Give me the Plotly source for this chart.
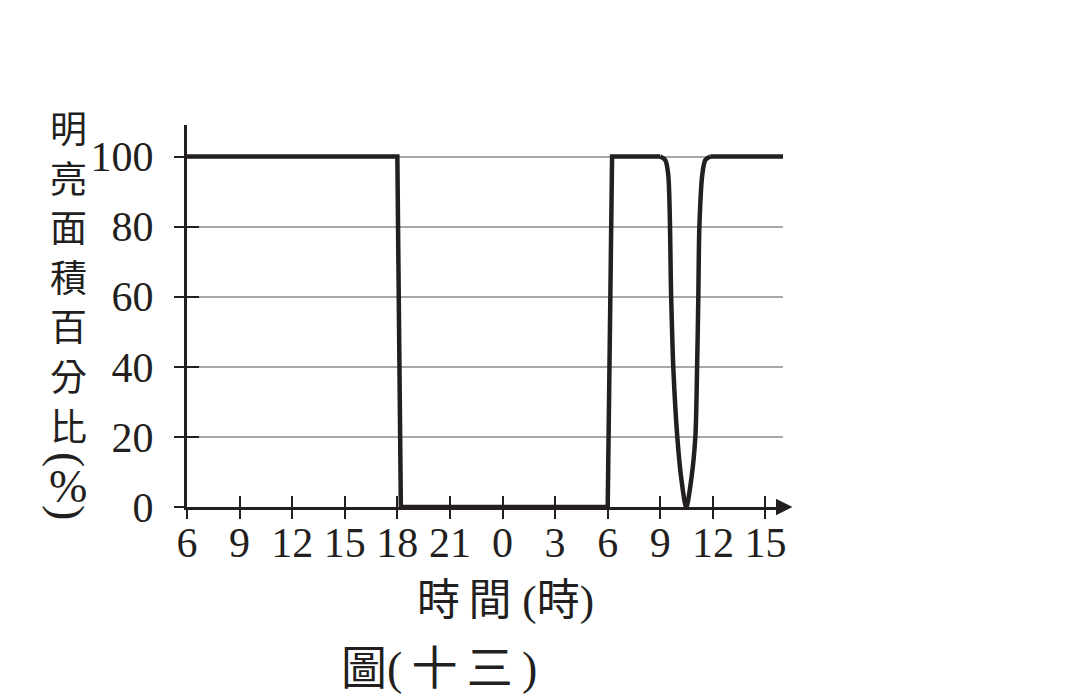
import plotly.graph_objects as go

# ---- data (hours counted continuously from 6 h of day 1; 30 = 6 h next day) ----
hours = [6, 18.0, 18.2, 30.0, 30.25, 33.0, 33.28, 33.45, 33.62, 33.74, 33.97, 34.2, 34.48,
         34.77, 35.0, 35.1, 35.17, 35.23, 35.4, 35.57, 35.85, 40.0]
bright_pct = [100, 100, 0, 0, 100, 100, 99, 95, 60, 40, 20, 8, 0,
              8, 20, 40, 60, 80, 95, 99, 100, 100]
dip_start, dip_end = 5, 20   # indices of the smooth mid-morning dip

x_tickvals = [6, 9, 12, 15, 18, 21, 24, 27, 30, 33, 36, 39]
x_ticktext = ["6", "9", "12", "15", "18", "21", "0", "3", "6", "9", "12", "15"]
y_tickvals = [0, 20, 40, 60, 80, 100]

y_title_chars = ["明", "亮", "面", "積", "百", "分", "比"]

x_range = [6, 40]
y_range = [0, 109]

SERIF = "Liberation Serif, Noto Sans CJK TC"
CJK = "Noto Sans CJK TC"
INK = "#231f20"

fig = go.Figure()
# step parts (straight segments)
fig.add_trace(go.Scatter(x=hours[:dip_start + 1], y=bright_pct[:dip_start + 1], mode="lines",
                         line=dict(color=INK, width=4.5), showlegend=False, hoverinfo="skip"))
fig.add_trace(go.Scatter(x=hours[dip_end:], y=bright_pct[dip_end:], mode="lines",
                         line=dict(color=INK, width=4.5), showlegend=False, hoverinfo="skip"))
# smooth dip
fig.add_trace(go.Scatter(x=hours[dip_start:dip_end + 1], y=bright_pct[dip_start:dip_end + 1],
                         mode="lines", line=dict(color=INK, width=4.5, shape="spline", smoothing=0.8),
                         showlegend=False, hoverinfo="skip"))
# invisible copy on overlay axes so the second set of tick marks is drawn
fig.add_trace(go.Scatter(x=hours, y=bright_pct, mode="lines", xaxis="x2", yaxis="y2",
                         line=dict(color="rgba(0,0,0,0)", width=1), showlegend=False,
                         hoverinfo="skip"))

fig.update_layout(
    width=1073, height=692,
    margin=dict(l=179, r=298, t=117, b=193),
    paper_bgcolor="white", plot_bgcolor="white",
    xaxis=dict(range=x_range, tickvals=x_tickvals, ticktext=x_ticktext,
               ticks="inside", ticklen=11, tickwidth=2, tickcolor=INK,
               showline=True, linewidth=3, linecolor=INK,
               showgrid=False, zeroline=False,
               tickfont=dict(family=SERIF, size=42, color=INK),
               ticklabelstandoff=-3),
    xaxis2=dict(range=x_range, overlaying="x", anchor="y", side="bottom",
                tickvals=x_tickvals, ticks="outside", ticklen=11, tickwidth=2,
                tickcolor=INK, showticklabels=False, showline=False,
                showgrid=False, zeroline=False),
    yaxis=dict(range=y_range, tickvals=y_tickvals,
               ticks="inside", ticklen=12, tickwidth=2, tickcolor=INK,
               showline=True, linewidth=3, linecolor=INK,
               showgrid=True, gridcolor="#a8a8a8", gridwidth=1.5, zeroline=False,
               tickfont=dict(family=SERIF, size=42, color=INK),
               ticklabelstandoff=22),
    yaxis2=dict(range=y_range, overlaying="y", anchor="x", side="left",
                tickvals=y_tickvals, ticks="outside", ticklen=12, tickwidth=2,
                tickcolor=INK, showticklabels=False, showline=False,
                showgrid=False, zeroline=False),
)

annotations = [
    # x-axis arrow
    dict(x=40.54, y=0, xref="x", yref="y", ax=39.9, ay=0, axref="x", ayref="y",
         showarrow=True, arrowhead=2, arrowsize=1.1, arrowwidth=3, arrowcolor=INK, text=""),
]
# vertical y-axis title, one character per line
for i, ch in enumerate(y_title_chars):
    annotations.append(dict(x=0, y=0, xref="paper", yref="paper", xshift=-119,
                            yshift=380 - i * 49.6, xanchor="center", yanchor="middle",
                            showarrow=False, text=ch, borderpad=0,
                            font=dict(family=CJK, size=37, color=INK)))
annotations += [
    dict(x=0, y=0, xref="paper", yref="paper", xshift=-119, yshift=48,
         xanchor="center", yanchor="middle", showarrow=False, textangle=90,
         text="(", borderpad=0, font=dict(family="Liberation Serif", size=46, color=INK)),
    dict(x=0, y=0, xref="paper", yref="paper", xshift=-119, yshift=21,
         xanchor="center", yanchor="middle", showarrow=False,
         text="%", borderpad=0, font=dict(family="Liberation Serif", size=46, color=INK)),
    dict(x=0, y=0, xref="paper", yref="paper", xshift=-119, yshift=-5,
         xanchor="center", yanchor="middle", showarrow=False, textangle=90,
         text=")", borderpad=0, font=dict(family="Liberation Serif", size=46, color=INK)),
    # x-axis title
    dict(x=0.5336, y=0, xref="paper", yref="paper", yshift=-94,
         xanchor="center", yanchor="middle", showarrow=False,
         text="時\u2009間 (時)", font=dict(family=SERIF, size=43, color=INK)),
    # caption
    dict(x=0.422, y=0, xref="paper", yref="paper", yshift=-161,
         xanchor="center", yanchor="middle", showarrow=False,
         text="圖(\u2009十\u2009三\u2009)", font=dict(family=SERIF, size=46, color=INK)),
]
fig.update_layout(annotations=annotations)

fig.write_html("out.html")
